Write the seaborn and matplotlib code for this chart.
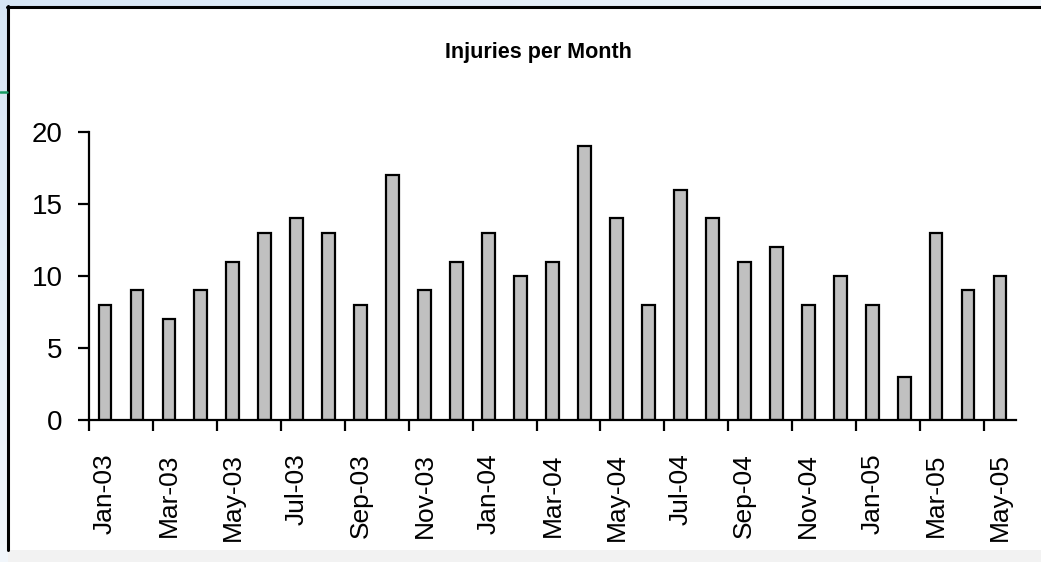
import numpy as np
import pandas as pd
import matplotlib
matplotlib.use("Agg")
import matplotlib.pyplot as plt
from matplotlib import font_manager
from matplotlib.patches import Rectangle
from matplotlib.lines import Line2D
import seaborn as sns

months = ['Jan-03', 'Feb-03', 'Mar-03', 'Apr-03', 'May-03', 'Jun-03', 'Jul-03', 'Aug-03',
          'Sep-03', 'Oct-03', 'Nov-03', 'Dec-03', 'Jan-04', 'Feb-04', 'Mar-04', 'Apr-04',
          'May-04', 'Jun-04', 'Jul-04', 'Aug-04', 'Sep-04', 'Oct-04', 'Nov-04', 'Dec-04',
          'Jan-05', 'Feb-05', 'Mar-05', 'Apr-05', 'May-05']
injuries = [8, 9, 7, 9, 11, 13, 14, 13, 8, 17, 9, 11, 13, 10, 11, 19,
            14, 8, 16, 14, 11, 12, 8, 10, 8, 3, 13, 9, 10]
yticks = [0, 5, 10, 15, 20]

sns.set_style("white")
plt.rcParams['font.family'] = ['Liberation Sans', 'DejaVu Sans']
plt.rcParams['text.color'] = 'black'
plt.rcParams['xtick.color'] = 'black'
plt.rcParams['ytick.color'] = 'black'

names = {f.name for f in font_manager.fontManager.ttflist}
if 'Liberation Sans Narrow' in names:
    title_font, title_size = 'Liberation Sans Narrow', 17.5
else:
    title_font, title_size = 'Liberation Sans', 15.5

W, H = 1041, 562
fig = plt.figure(figsize=(W / 100, H / 100), dpi=100)

# slide-like background with a white chart frame
bg = fig.add_axes([0, 0, 1, 1], zorder=-10)
grad = np.linspace(0, 1, 256)
gx, gy = np.meshgrid(grad, grad)
t = np.clip((gx + gy) / 1.2, 0, 1)
c0 = np.array([0.84, 0.90, 0.96])
c1 = np.array([0.97, 0.98, 0.99])
img = c0[None, None, :] * (1 - t[..., None]) + c1[None, None, :] * t[..., None]
bg.imshow(img, extent=[0, W, H, 0], aspect='auto')
bg.set_xlim(0, W)
bg.set_ylim(H, 0)
bg.add_patch(Rectangle((8, 7), W, 543, facecolor='white', edgecolor='none'))
bg.add_patch(Rectangle((8, 550), W, 12, facecolor='#f2f2f2', edgecolor='none'))
bg.add_line(Line2D([8, 8], [6, 550], color='black', lw=2.2))
bg.add_line(Line2D([7, W], [7, 7], color='black', lw=2.2))
bg.add_line(Line2D([0, 7], [92, 92], color='#169b62', lw=1.8))
bg.axis('off')

df = pd.DataFrame({'month': months, 'injuries': injuries})

ax = fig.add_axes([89 / W, 1 - 420 / H, (1016 - 89) / W, (420 - 132) / H])
ax.patch.set_alpha(0)
sns.barplot(data=df, x='month', y='injuries', order=months, color='#c0c0c0',
            saturation=1, edgecolor='black', linewidth=1.6, width=0.4, ax=ax)

ax.set_xlim(-0.5, len(months) - 0.5)
ax.set_ylim(0, 20)
ax.set_yticks(yticks)
ax.set_yticklabels([str(v) for v in yticks], fontsize=20)
ax.set_xticks(range(0, len(months), 2))
ax.set_xticklabels(months[::2], rotation=90, fontsize=19)
ax.set_xticks(np.arange(-0.5, len(months) - 1, 2), minor=True)
ax.tick_params(axis='x', which='major', bottom=True, length=0, pad=24, colors='black')
ax.tick_params(axis='x', which='minor', bottom=True, length=8, width=1.6,
               direction='out', color='black')
ax.tick_params(axis='y', which='major', left=True, length=8, width=1.6,
               direction='out', pad=11, colors='black')
ax.set_xlabel('')
ax.set_ylabel('')
for s in ['top', 'right']:
    ax.spines[s].set_visible(False)
for s in ['left', 'bottom']:
    ax.spines[s].set_color('black')
    ax.spines[s].set_linewidth(1.6)

fig.text(538 / W, 1 - 58 / H, 'Injuries per Month', ha='center', va='baseline',
         fontsize=title_size, fontweight='bold', color='black',
         family=[title_font, 'DejaVu Sans'])

fig.savefig('out.png', dpi=100)
